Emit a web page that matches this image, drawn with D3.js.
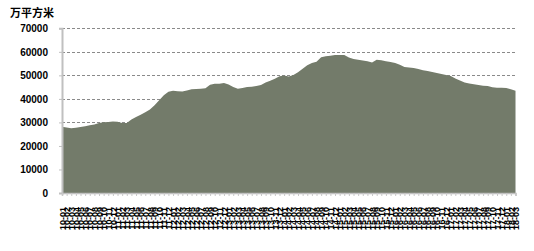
<!DOCTYPE html>
<html>
<head>
<meta charset="utf-8">
<script src="https://cdn.jsdelivr.net/npm/d3@7"></script>
<style>
  body { margin: 0; background: #fff; }
  svg { display: block; }
</style>
</head>
<body>
<div id="chart"></div>
<script>
"use strict";

// months, 2010-01 .. 2018-03
var months = [
  "10-01","10-02","10-03","10-04","10-05","10-06","10-07","10-08","10-09","10-10","10-11","10-12",
  "11-01","11-02","11-03","11-04","11-05","11-06","11-07","11-08","11-09","11-10","11-11","11-12",
  "12-01","12-02","12-03","12-04","12-05","12-06","12-07","12-08","12-09","12-10","12-11","12-12",
  "13-01","13-02","13-03","13-04","13-05","13-06","13-07","13-08","13-09","13-10","13-11","13-12",
  "14-01","14-02","14-03","14-04","14-05","14-06","14-07","14-08","14-09","14-10","14-11","14-12",
  "15-01","15-02","15-03","15-04","15-05","15-06","15-07","15-08","15-09","15-10","15-11","15-12",
  "16-01","16-02","16-03","16-04","16-05","16-06","16-07","16-08","16-09","16-10","16-11","16-12",
  "17-01","17-02","17-03","17-04","17-05","17-06","17-07","17-08","17-09","17-10","17-11","17-12",
  "18-01","18-02","18-03"
];

// 万平方米
var area = [
  28200, 27800, 27500, 27700, 28000, 28400, 28800, 29100, 29800, 30100, 30200, 30400,
  30300, 29800, 29700, 31200, 32300, 33300, 34300, 35500, 37300, 39400, 41500, 43000,
  43500, 43200, 43100, 43600, 44100, 44200, 44300, 44500, 46000, 46400, 46400, 46700,
  46100, 45000, 44300, 44600, 45000, 45200, 45500, 45900, 47000, 47700, 48600, 49600,
  49900, 49500, 50200, 51300, 52800, 54300, 55200, 55800, 57700, 58100, 58300, 58700,
  58700, 58600, 57600, 57000, 56600, 56300, 56000, 55500, 56600, 56400, 56000, 55700,
  55200, 54500, 53600, 53300, 53100, 52700, 52200, 51900, 51400, 51000, 50600, 50100,
  49700, 48700, 47800, 47000, 46500, 46200, 45900, 45600, 45500, 44900, 44700, 44700,
  44600, 44100, 43500
];

var yTicks = [0, 10000, 20000, 30000, 40000, 50000, 60000, 70000];
var unitLabel = "万平方米";

var width = 534, height = 251;
var margin = { top: 28.3, right: 515.5, bottom: 193, left: 62 };

var svg = d3.select("#chart")
            .append("svg")
            .attr("width", width)
            .attr("height", height);

var x = d3.scalePoint()
          .domain(months)
          .range([margin.left, margin.right]);

var y = d3.scaleLinear()
          .domain([0, 70000])
          .range([margin.bottom, margin.top]);

// dashed grid
svg.append("g")
   .selectAll("line")
   .data(yTicks.slice(1))
   .enter()
   .append("line")
   .attr("x1", margin.left)
   .attr("x2", margin.right)
   .attr("y1", function (d) { return Math.round(y(d)) + 0.5; })
   .attr("y2", function (d) { return Math.round(y(d)) + 0.5; })
   .attr("stroke", "#8a8a8a")
   .attr("stroke-width", 1)
   .attr("stroke-dasharray", "3,2");

// area
var areaGen = d3.area()
                .x(function (d, i) { return x(months[i]); })
                .y0(y(0))
                .y1(function (d) { return y(d); });

svg.append("path")
   .datum(area)
   .attr("d", areaGen)
   .attr("fill", "#737b6a");

// y axis
var yAxis = d3.axisLeft(y)
              .tickValues(yTicks)
              .tickSize(3)
              .tickPadding(11)
              .tickFormat(d3.format("d"));

var gy = svg.append("g")
            .attr("transform", "translate(" + margin.left + ",0)")
            .call(yAxis);
gy.select(".domain").attr("stroke", "#c0c0c0").attr("stroke-width", 2);
gy.selectAll(".tick line").attr("stroke", "#c0c0c0");
gy.selectAll("text")
  .attr("font-family", "'Liberation Sans', Arial, sans-serif")
  .attr("font-weight", "bold")
  .attr("font-size", "10px")
  .attr("fill", "#000");

// x axis
var xAxis = d3.axisBottom(x)
              .tickSize(3)
              .tickPadding(2);

var gx = svg.append("g")
            .attr("transform", "translate(0," + margin.bottom + ")")
            .call(xAxis);
gx.select(".domain").attr("stroke", "#c0c0c0").attr("stroke-width", 1.5);
gx.selectAll(".tick line").attr("stroke", "#c8c8c8");
gx.selectAll("text")
  .attr("font-family", "'Liberation Sans', Arial, sans-serif")
  .attr("font-weight", "bold")
  .attr("font-size", "9px")
  .attr("fill", "#000")
  .attr("text-anchor", "end")
  .attr("dy", "0.35em")
  .attr("transform", "translate(0,14) rotate(-90)")
  .attr("x", 0)
  .attr("y", 0);

// unit
svg.append("text")
   .attr("x", 10)
   .attr("y", 17)
   .attr("font-family", "'Noto Sans CJK SC', sans-serif")
   .attr("font-weight", "bold")
   .attr("font-size", "11px")
   .text(unitLabel);
</script>
</body>
</html>
